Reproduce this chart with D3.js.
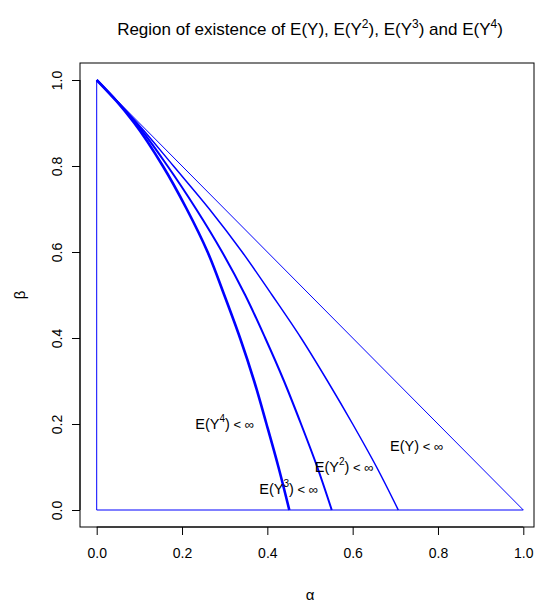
<!DOCTYPE html>
<html><head><meta charset="utf-8">
<script src="https://cdn.jsdelivr.net/npm/d3@7"></script>
<style>body{margin:0;background:#fff}svg{display:block;font-family:"Liberation Sans",Arial,sans-serif}</style>
</head><body><svg id="c" width="536" height="603"></svg>
<script>
const betaLevels = [1, 0.95, 0.9, 0.8, 0.7, 0.6, 0.5, 0.4, 0.3, 0.2, 0.1, 0];
const alphaEY1 = [0, 0.05, 0.1, 0.2, 0.3, 0.4, 0.5, 0.6, 0.7, 0.8, 0.9, 1.0];
const alphaEY2 = [0, 0.049, 0.095, 0.180, 0.264, 0.341, 0.411, 0.479, 0.541, 0.600, 0.656, 0.707];
const alphaEY3 = [0, 0.048, 0.092, 0.166, 0.233, 0.294, 0.348, 0.395, 0.439, 0.479, 0.517, 0.551];
const alphaEY4 = [0, 0.047, 0.088, 0.155, 0.211, 0.260, 0.299, 0.336, 0.369, 0.398, 0.426, 0.4515];
const lineWidths = [1, 1.5, 2, 2.6];
const labelPos = [[0.75, 0.15, ""], [0.58, 0.10, "2"], [0.45, 0.05, "3"], [0.30, 0.20, "4"]];
const xTicks = [0, 0.2, 0.4, 0.6, 0.8, 1.0];
const yTicks = [0, 0.2, 0.4, 0.6, 0.8, 1.0];

const svg = d3.select("#c");
const x = d3.scaleLinear().domain([0, 1]).range([96.7, 523.3]);
const y = d3.scaleLinear().domain([0, 1]).range([510, 80]);
const box = {l: 80, r: 534, t: 63, b: 527};

// triangle boundary
svg.append("path")
  .attr("d", d3.line()([[x(0), y(1)], [x(0), y(0)], [x(1), y(0)]]))
  .attr("fill", "none").attr("stroke", "#0000ff").attr("stroke-width", 1);

const series = [alphaEY1, alphaEY2, alphaEY3, alphaEY4];
const line = d3.line().x(d => x(d[0])).y(d => y(d[1])).curve(d3.curveMonotoneY);
series.forEach((s, i) => {
  svg.append("path").attr("d", line(s.map((a, j) => [a, betaLevels[j]])))
    .attr("fill", "none").attr("stroke", "#0000ff").attr("stroke-width", lineWidths[i])
    .attr("stroke-linejoin", "round");
});

// labels
labelPos.forEach(([a, b, p]) => {
  const t = svg.append("text").attr("x", x(a)).attr("y", y(b)).attr("text-anchor", "middle")
    .attr("dominant-baseline", "central").attr("font-size", 14.5).attr("fill", "#000");
  t.append("tspan").text("E(Y");
  if (p) t.append("tspan").attr("font-size", 10).attr("dy", -6).text(p);
  t.append("tspan").attr("dy", p ? 6 : 0).text(")");
  t.append("tspan").attr("font-size", 13).text(" < ∞");
});

// box
svg.append("rect").attr("x", box.l).attr("y", box.t).attr("width", box.r - box.l).attr("height", box.b - box.t)
  .attr("fill", "none").attr("stroke", "#000").attr("stroke-width", 1);

// x axis
const xa = svg.append("g").attr("transform", `translate(0,${box.b})`)
  .call(d3.axisBottom(x).tickValues(xTicks).tickFormat(d3.format(".1f")).tickSize(8).tickPadding(13));
xa.select(".domain").attr("d", `M${x(0)},0H${x(1)}`);
xa.selectAll("text").attr("font-size", 14).attr("font-family", "Liberation Sans, Arial, sans-serif");

// y axis
const ya = svg.append("g").attr("transform", `translate(${box.l},0)`)
  .call(d3.axisLeft(y).tickValues(yTicks).tickFormat(d3.format(".1f")).tickSize(8).tickPadding(0));
ya.select(".domain").attr("d", `M0,${y(0)}V${y(1)}`);
ya.selectAll("text").attr("font-size", 14).attr("font-family", "Liberation Sans, Arial, sans-serif")
  .attr("transform", "rotate(-90)").attr("dy", null)
  .attr("text-anchor", "middle").attr("x", 0).attr("y", -18);

// axis titles
svg.append("text").attr("x", (box.l + box.r) / 2 + 3).attr("y", 600).attr("text-anchor", "middle")
  .attr("font-size", 15).text("α");
svg.append("text").attr("transform", `translate(25,${(box.t + box.b) / 2}) rotate(-90)`)
  .attr("text-anchor", "middle").attr("font-size", 15).text("β");

// title
const tt = svg.append("text").attr("x", 310).attr("y", 35).attr("text-anchor", "middle").attr("font-size", 17);
const parts = [["Region of existence of E(Y), E(Y", null], ["2", 1], ["), E(Y", 0], ["3", 1], [") and E(Y", 0], ["4", 1], [")", 0]];
parts.forEach(([s, sup]) => {
  const sp = tt.append("tspan").text(s);
  if (sup === 1) sp.attr("font-size", 12).attr("dy", -7);
  else if (sup === 0) sp.attr("dy", 7);
});
</script></body></html>
